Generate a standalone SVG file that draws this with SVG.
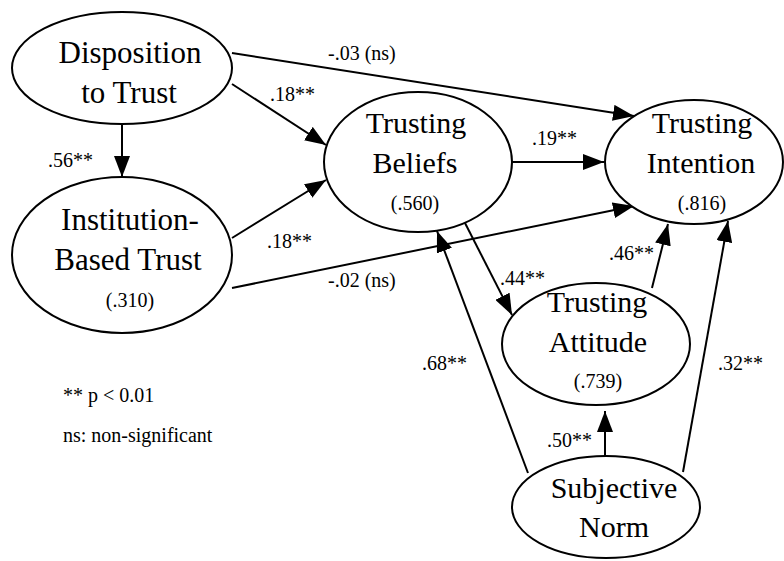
<svg xmlns="http://www.w3.org/2000/svg" width="784" height="561" viewBox="0 0 784 561">
  <style>
    .node ellipse { fill: #ffffff; stroke: #000000; stroke-width: 2; }
    text { font-family: 'Liberation Serif', Tinos, 'Times New Roman', 'DejaVu Serif', 'Noto Serif', serif; fill: #000000; }
    .big { font-size: 30px; text-anchor: middle; }
    .big31 { font-size: 31px; text-anchor: middle; }
    .r2 { font-size: 20px; text-anchor: middle; }
    .lbl { font-size: 20px; }
    .edge { stroke: #000000; stroke-width: 2; fill: none; }
    .arrow { marker-end: url(#head); }
  </style>
  <defs>
    <marker id="head" markerUnits="userSpaceOnUse" markerWidth="21" markerHeight="16" refX="21" refY="8" orient="auto">
      <path d="M0,0 L21,8 L0,16 z" fill="#000000"/>
    </marker>
  </defs>

  <rect width="784" height="561" fill="#ffffff"/>

  <!-- connectors -->
  <g id="connectors">
    <line class="edge arrow" x1="232" y1="53" x2="634" y2="116"/>
    <line class="edge arrow" x1="232" y1="84" x2="326" y2="145"/>
    <line class="edge arrow" x1="122" y1="124" x2="122" y2="177"/>
    <line class="edge arrow" x1="232" y1="238" x2="326" y2="180"/>
    <line class="edge arrow" x1="232" y1="288" x2="634" y2="206"/>
    <line class="edge arrow" x1="512" y1="162" x2="604" y2="162"/>
    <line class="edge arrow" x1="465" y1="223" x2="512" y2="315"/>
    <line class="edge arrow" x1="652" y1="288" x2="668" y2="224"/>
    <line class="edge arrow" x1="683" y1="472" x2="728" y2="221"/>
    <line class="edge arrow" x1="528" y1="473" x2="437" y2="231"/>
    <line class="edge arrow" x1="605" y1="457" x2="605" y2="411"/>

    <text class="lbl" x="328" y="60">-.03 (ns)</text>
    <text class="lbl" x="270" y="101">.18**</text>
    <text class="lbl" x="48" y="167">.56**</text>
    <text class="lbl" x="267" y="248">.18**</text>
    <text class="lbl" x="328" y="287">-.02 (ns)</text>
    <text class="lbl" x="532" y="145">.19**</text>
    <text class="lbl" x="609" y="260">.46**</text>
    <text class="lbl" x="500" y="285">.44**</text>
    <text class="lbl" x="422" y="370">.68**</text>
    <text class="lbl" x="718" y="370">.32**</text>
    <text class="lbl" x="547" y="447">.50**</text>
  </g>

  <!-- nodes -->
  <g id="disposition" class="node">
    <ellipse cx="122" cy="68" rx="110" ry="56"/>
    <text class="big31" x="130" y="63">Disposition</text>
    <text class="big31" x="129" y="103">to Trust</text>
  </g>

  <g id="institution" class="node">
    <ellipse cx="122" cy="255" rx="110" ry="78"/>
    <text class="big31" x="130" y="230">Institution-</text>
    <text class="big31" x="128" y="270">Based Trust</text>
    <text class="r2" x="130" y="307">(.310)</text>
  </g>

  <g id="beliefs" class="node">
    <ellipse cx="418" cy="162" rx="94" ry="70"/>
    <text class="big" x="416" y="133">Trusting</text>
    <text class="big" x="415" y="173">Beliefs</text>
    <text class="r2" x="415" y="210">(.560)</text>
  </g>

  <g id="intention" class="node">
    <ellipse cx="694" cy="162" rx="89" ry="62"/>
    <text class="big" x="702" y="133">Trusting</text>
    <text class="big" x="701" y="173">Intention</text>
    <text class="r2" x="702" y="210">(.816)</text>
  </g>

  <g id="attitude" class="node">
    <ellipse cx="596" cy="344" rx="94" ry="61"/>
    <text class="big" x="597" y="312">Trusting</text>
    <text class="big" x="598" y="352">Attitude</text>
    <text class="r2" x="598" y="388">(.739)</text>
  </g>

  <g id="subjective" class="node">
    <ellipse cx="606" cy="507" rx="94" ry="51"/>
    <text class="big" x="614" y="498">Subjective</text>
    <text class="big" x="614" y="537">Norm</text>
  </g>

  <!-- legend -->
  <g id="legend">
    <text class="lbl" x="63" y="402">** p &lt; 0.01</text>
    <text class="lbl" x="63" y="442">ns: non-significant</text>
  </g>
</svg>
